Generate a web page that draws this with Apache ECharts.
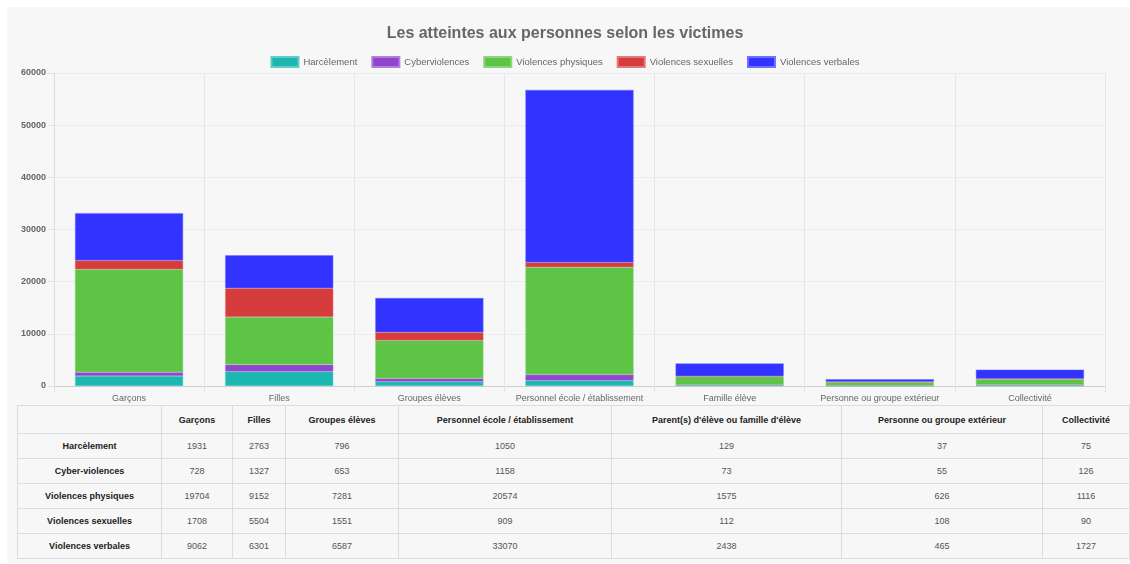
<!DOCTYPE html>
<html>
<head>
<meta charset="utf-8">
<script src="https://cdn.jsdelivr.net/npm/echarts@6/dist/echarts.min.js"></script>
<style>
  html, body { margin: 0; padding: 0; background: #ffffff; width: 1130px; height: 564px; overflow: hidden; font-family: "Liberation Sans", Arial, sans-serif; }
  #panel { position: absolute; left: 7px; top: 7px; width: 1123px; height: 556px; background: #f7f7f7; }
  #chart { position: absolute; left: 0; top: 0; width: 1130px; height: 404px; }
  #tbl { position: absolute; left: 17px; top: 405px; border-collapse: collapse; table-layout: fixed; font-size: 9px; color: #555; }
  #tbl td, #tbl th { border: 1px solid #dcdcdc; text-align: center; padding: 0; background: #f7f7f7; }
  #tbl th { font-weight: bold; color: #222; height: 27px; }
  #tbl td { height: 24px; }
  #tbl td.rh { font-weight: bold; color: #222; }
</style>
</head>
<body>
<div id="panel"></div>
<div id="chart"></div>
<table id="tbl"></table>
<script>
const title = "Les atteintes aux personnes selon les victimes";
const categories = ["Garçons", "Filles", "Groupes élèves", "Personnel école / établissement", "Famille élève", "Personne ou groupe extérieur", "Collectivité"];
const tableHeaders = ["Garçons", "Filles", "Groupes élèves", "Personnel école / établissement", "Parent(s) d'élève ou famille d'élève", "Personne ou groupe extérieur", "Collectivité"];
const seriesNames = ["Harcèlement", "Cyberviolences", "Violences physiques", "Violences sexuelles", "Violences verbales"];
const rowNames = ["Harcèlement", "Cyber-violences", "Violences physiques", "Violences sexuelles", "Violences verbales"];
const harcelement = [1931, 2763, 796, 1050, 129, 37, 75];
const cyberviolences = [728, 1327, 653, 1158, 73, 55, 126];
const physiques = [19704, 9152, 7281, 20574, 1575, 626, 1116];
const sexuelles = [1708, 5504, 1551, 909, 112, 108, 90];
const verbales = [9062, 6301, 6587, 33070, 2438, 465, 1727];
const yTicks = [0, 10000, 20000, 30000, 40000, 50000, 60000];

const seriesData = [harcelement, cyberviolences, physiques, sexuelles, verbales];
const colors = ['#1bb7b0', '#9045cf', '#5dc446', '#d63c3c', '#3333ff'];
const borders = ['#5fcdc8', '#b07fdd', '#8dd47c', '#e27a7a', '#7070ff'];

const chart = echarts.init(document.getElementById('chart'), null, { renderer: 'canvas' });
chart.setOption({
  animation: false,
  backgroundColor: 'transparent',
  color: colors,
  title: {
    text: title, left: 'center', top: 21,
    textStyle: { fontSize: 16, fontWeight: 'bold', color: '#666', fontFamily: 'Liberation Sans, Arial, sans-serif' }
  },
  legend: {
    data: seriesNames, left: 'center', top: 51,
    itemWidth: 27, itemHeight: 10, itemGap: 14,
    icon: 'rect',
    textStyle: { fontSize: 9.5, color: '#666', fontFamily: 'Liberation Sans, Arial, sans-serif' }
  },
  grid: { left: 54, right: 25, top: 73, bottom: 18, containLabel: false },
  xAxis: {
    type: 'category', data: categories,
    axisLine: { lineStyle: { color: '#cfcfcf' } },
    axisTick: { show: true, length: 6, lineStyle: { color: '#e2e2e2' } },
    splitLine: { show: true, lineStyle: { color: '#e6e6e6' } },
    axisLabel: { color: '#666', fontSize: 9, margin: 8, interval: 0, fontFamily: 'Liberation Sans, Arial, sans-serif' }
  },
  yAxis: {
    type: 'value', min: yTicks[0], max: yTicks[yTicks.length - 1], interval: yTicks[1] - yTicks[0],
    axisLine: { show: true, lineStyle: { color: '#dcdcdc' } },
    axisTick: { show: true, length: 6, lineStyle: { color: '#e2e2e2' } },
    splitLine: { show: true, lineStyle: { color: '#ececec' } },
    axisLabel: { color: '#666', fontSize: 9, fontWeight: 'bold', margin: 8, formatter: v => String(v), fontFamily: 'Liberation Sans, Arial, sans-serif' }
  },
  series: seriesNames.map((n, i) => ({
    name: n, type: 'bar', stack: 'total', data: seriesData[i],
    barWidth: '72%',
    itemStyle: { color: colors[i], borderColor: borders[i], borderWidth: 0.5 }
  }))
});

// Table built from the same arrays
const widths = [144, 71, 53, 113, 213, 230, 201, 87];
const tbl = document.getElementById('tbl');
let html = '<colgroup>' + widths.map(w => '<col style="width:' + w + 'px">').join('') + '</colgroup>';
html += '<tr><th></th>' + tableHeaders.map(h => '<th>' + h + '</th>').join('') + '</tr>';
rowNames.forEach((r, i) => {
  html += '<tr><td class="rh">' + r + '</td>' + seriesData[i].map(v => '<td>' + v + '</td>').join('') + '</tr>';
});
tbl.innerHTML = html;
tbl.style.width = widths.reduce((a, b) => a + b, 0) + 'px';
</script>
</body>
</html>
